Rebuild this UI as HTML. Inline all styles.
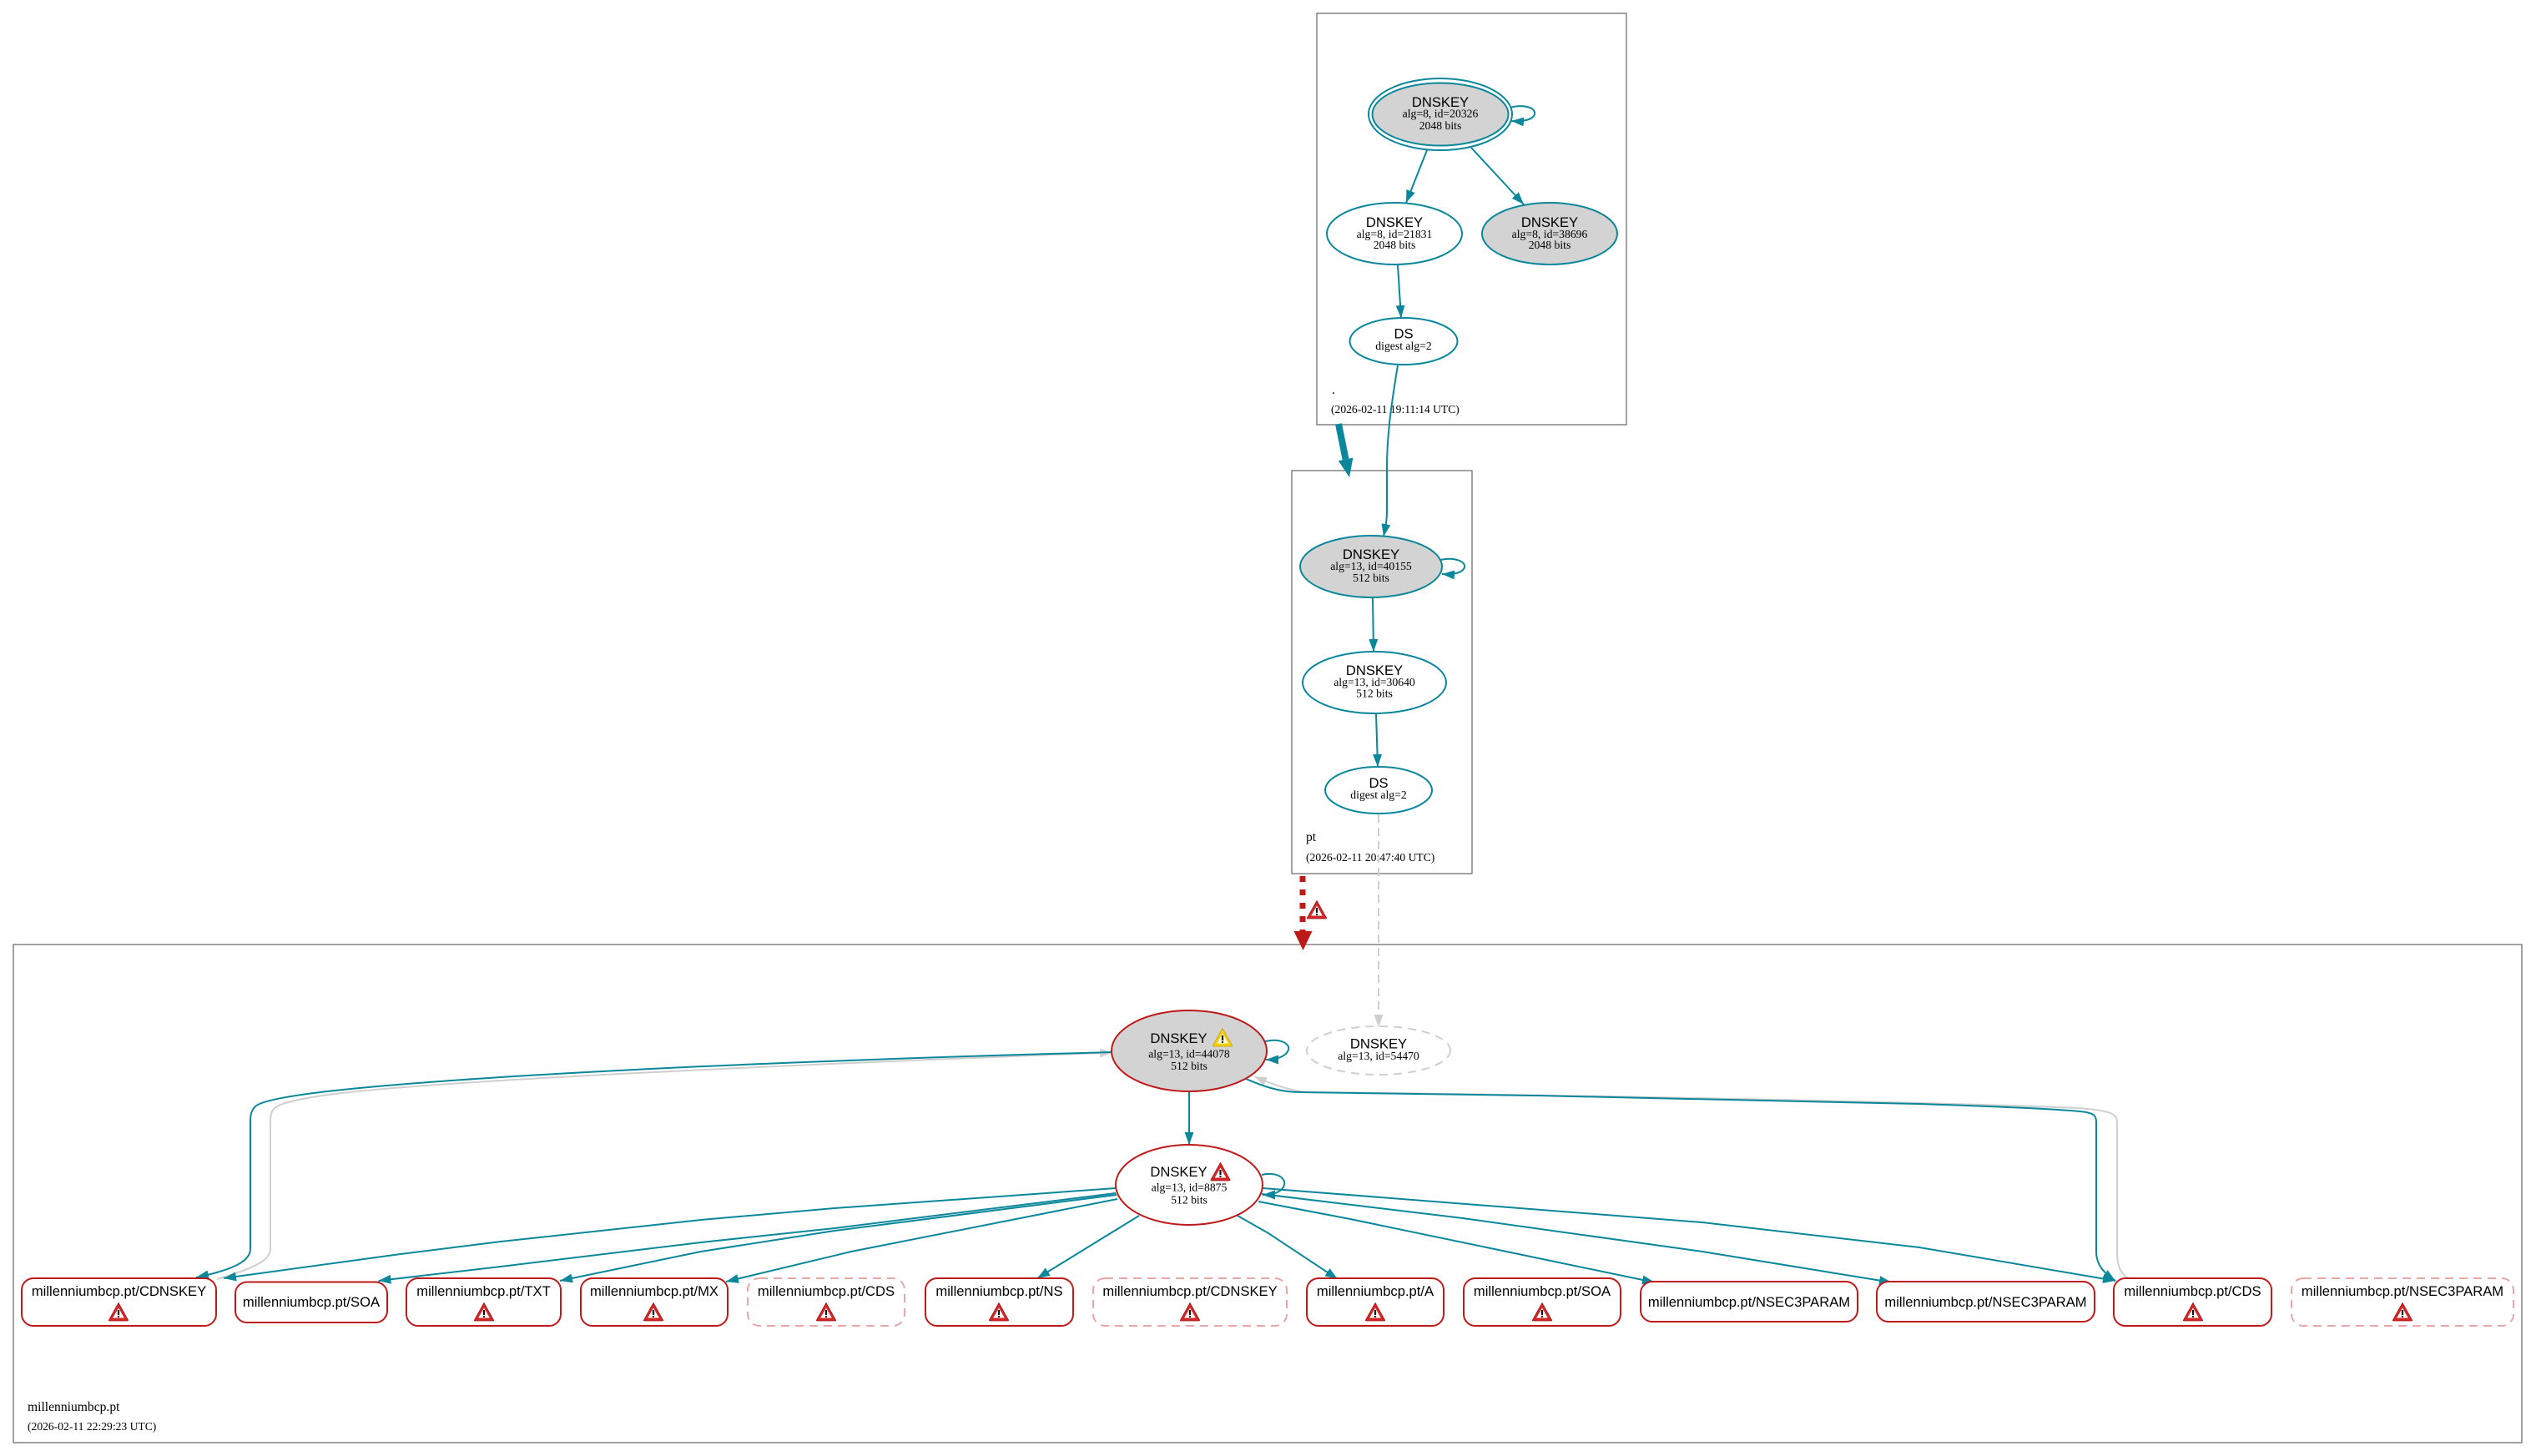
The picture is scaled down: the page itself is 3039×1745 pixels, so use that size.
<!DOCTYPE html>
<html><head><meta charset="utf-8"><style>
html,body{margin:0;padding:0;background:#fff;}
svg{display:block;}
.t{font-family:"Liberation Sans",Arial,sans-serif;font-size:16.6px;fill:#000;}
.s{font-family:"Liberation Serif","Times New Roman",serif;font-size:13.7px;fill:#000;}
.c{font-family:"Liberation Serif","Times New Roman",serif;font-size:15.6px;fill:#000;}
.d{font-family:"Liberation Serif","Times New Roman",serif;font-size:13.6px;fill:#000;}
.e{fill:none;stroke:#0a879a;stroke-width:2;}
.g{fill:none;stroke:#cfcfcf;stroke-width:2;}
.cl{fill:none;stroke:#707070;stroke-width:1.3;}
.rn{fill:#fff;stroke:#be1a1a;stroke-width:2;}
.dn{fill:#fff;stroke:#e8a6a6;stroke-width:2;stroke-dasharray:10,7;}
</style></head><body>
<svg width="3039" height="1745" viewBox="0 0 3039 1745" xmlns="http://www.w3.org/2000/svg">
<defs>
<marker id="at" markerUnits="userSpaceOnUse" markerWidth="16" markerHeight="12" refX="15" refY="5.5" orient="auto"><path d="M0,0 L15,5.5 L0,11 Z" fill="#0a879a"/></marker>
<marker id="ag" markerUnits="userSpaceOnUse" markerWidth="16" markerHeight="12" refX="15" refY="5.5" orient="auto"><path d="M0,0 L15,5.5 L0,11 Z" fill="#cfcfcf"/></marker>
</defs>
<rect width="3039" height="1745" fill="#fff"/>

<!-- clusters -->
<rect class="cl" x="1578" y="16" width="371" height="493"/>
<rect class="cl" x="1548" y="564" width="216" height="483"/>
<rect class="cl" x="16" y="1132" width="3006" height="597"/>

<text class="c" x="1596" y="472">.</text>
<text class="d" x="1595" y="495">(2026-02-11 19:11:14 UTC)</text>
<text class="c" x="1565" y="1008">pt</text>
<text class="d" x="1565" y="1032">(2026-02-11 20:47:40 UTC)</text>
<text class="c" x="33" y="1691">millenniumbcp.pt</text>
<text class="d" x="33" y="1714">(2026-02-11 22:29:23 UTC)</text>

<!-- root edges -->
<path class="e" d="M1710,180 L1685,243" marker-end="url(#at)"/>
<path class="e" d="M1763,177 L1826,245" marker-end="url(#at)"/>
<path class="e" d="M1675,318 L1679,381" marker-end="url(#at)"/>
<path class="e" d="M1675,438 C1668,480 1662,520 1662,560 L1662,612 C1662,625 1660,633 1658,643" marker-end="url(#at)"/>
<path class="e" d="M1809,129 C1828,124 1841,130 1839,137 C1837,143 1827,146 1811,145" marker-end="url(#at)"/>

<!-- thick arrow root -> pt -->
<path d="M1604,508 L1612.6,550.4" fill="none" stroke="#0a879a" stroke-width="8"/>
<polygon points="1621.4,548.6 1603.8,552.2 1617,572" fill="#0a879a"/>

<!-- root nodes -->
<ellipse cx="1726" cy="137" rx="86" ry="43" fill="#fff" stroke="#0a879a" stroke-width="2"/>
<ellipse cx="1726" cy="137" rx="81.5" ry="37.5" fill="#d3d3d3" stroke="#0a879a" stroke-width="2"/>
<text class="t" x="1726" y="128" text-anchor="middle">DNSKEY</text>
<text class="s" x="1726" y="140.5" text-anchor="middle">alg=8, id=20326</text>
<text class="s" x="1726" y="155" text-anchor="middle">2048 bits</text>

<ellipse cx="1671" cy="280" rx="81" ry="37" fill="#fff" stroke="#0a879a" stroke-width="2"/>
<text class="t" x="1671" y="272" text-anchor="middle">DNSKEY</text>
<text class="s" x="1671" y="285" text-anchor="middle">alg=8, id=21831</text>
<text class="s" x="1671" y="298" text-anchor="middle">2048 bits</text>

<ellipse cx="1857" cy="280" rx="81" ry="37" fill="#d3d3d3" stroke="#0a879a" stroke-width="2"/>
<text class="t" x="1857" y="272" text-anchor="middle">DNSKEY</text>
<text class="s" x="1857" y="285" text-anchor="middle">alg=8, id=38696</text>
<text class="s" x="1857" y="298" text-anchor="middle">2048 bits</text>

<ellipse cx="1682" cy="409" rx="64.5" ry="28" fill="#fff" stroke="#0a879a" stroke-width="2"/>
<text class="t" x="1682" y="405.5" text-anchor="middle">DS</text>
<text class="s" x="1682" y="419" text-anchor="middle">digest alg=2</text>

<!-- pt edges -->
<path class="e" d="M1645,717 L1646,781" marker-end="url(#at)"/>
<path class="e" d="M1649,855 L1651,919" marker-end="url(#at)"/>
<path class="e" d="M1726,671 C1745,667 1757,674 1755,680 C1753,686 1743,689 1728,688" marker-end="url(#at)"/>
<path class="g" d="M1652,976 L1652,1231" stroke-dasharray="10,6" marker-end="url(#ag)"/>

<!-- pt nodes -->
<ellipse cx="1643" cy="679" rx="85" ry="37" fill="#d3d3d3" stroke="#0a879a" stroke-width="2"/>
<text class="t" x="1643" y="670" text-anchor="middle">DNSKEY</text>
<text class="s" x="1643" y="683" text-anchor="middle">alg=13, id=40155</text>
<text class="s" x="1643" y="697" text-anchor="middle">512 bits</text>

<ellipse cx="1647" cy="818" rx="86" ry="37" fill="#fff" stroke="#0a879a" stroke-width="2"/>
<text class="t" x="1647" y="809" text-anchor="middle">DNSKEY</text>
<text class="s" x="1647" y="822" text-anchor="middle">alg=13, id=30640</text>
<text class="s" x="1647" y="835.5" text-anchor="middle">512 bits</text>

<ellipse cx="1652" cy="947" rx="64" ry="28" fill="#fff" stroke="#0a879a" stroke-width="2"/>
<text class="t" x="1652" y="944" text-anchor="middle">DS</text>
<text class="s" x="1652" y="957" text-anchor="middle">digest alg=2</text>

<!-- red dotted delegation arrow -->
<path d="M1561,1048 L1561,1116" fill="none" stroke="#be1a1a" stroke-width="7" stroke-dasharray="7,9" stroke-dashoffset="-2"/>
<polygon points="1550.5,1116 1572.5,1116 1561.5,1139" fill="#be1a1a"/>
<g transform="translate(1578,1090)"><path d="M0,-10.5 L11.5,10 Q12,11 10.5,11 L-10.5,11 Q-12,11 -11.5,10 Z" fill="#d02828" stroke="#a51414" stroke-width="0.8"/><path d="M0,-4.5 L6.8,7.5 L-6.8,7.5 Z" fill="#fff"/><rect x="-1.1" y="-2" width="2.2" height="6" fill="#111"/><rect x="-1.1" y="5" width="2.2" height="1.8" fill="#111"/></g>

<!-- bottom edges: grey first -->
<path class="g" d="M260,1533 C290,1524 324,1514 324,1497 L324,1345 C324,1336 325,1330 332,1326 C357,1313 440,1305 600,1295 C800,1283 1100,1270 1333,1261.5" marker-end="url(#ag)"/>
<path class="g" d="M2550,1532 C2540,1525 2537,1515 2537,1500 L2537,1345 C2537,1335 2530,1331 2490,1328 C2300,1320 1800,1311 1563,1309 C1540,1305 1520,1298 1503,1290" marker-end="url(#ag)"/>

<path class="e" d="M1333,1261 C1100,1267 800,1278 600,1291 C430,1302 320,1313 306,1326 C301,1331 300,1336 300,1345 L300,1497 C300,1512 278,1522 235,1531" marker-end="url(#at)"/>
<path class="e" d="M1493,1293 C1510,1300 1530,1309 1560,1309 C1800,1312 2100,1317 2300,1323 C2420,1327 2480,1330 2500,1333 C2510,1335 2512,1338 2512,1345 L2512,1500 C2512,1515 2520,1525 2535,1535" marker-end="url(#at)"/>

<path class="e" d="M1425,1308 L1425,1372" marker-end="url(#at)"/>
<path class="e" d="M1516,1248 C1535,1244 1546,1251 1544,1258 C1542,1265 1532,1270 1517,1270" marker-end="url(#at)"/>
<path class="e" d="M1512,1408 C1530,1404 1541,1412 1539,1420 C1537,1428 1527,1432 1513,1432" marker-end="url(#at)"/>

<path class="e" d="M1337,1424 L1000,1448 L840,1462 L600,1488 L480,1503 L268,1532" marker-end="url(#at)"/>
<path class="e" d="M1337,1430 L1000,1472 L840,1489 L600,1518 L453.5,1535" marker-end="url(#at)"/>
<path class="e" d="M1338,1432 L1000,1475 L840,1500 L671,1535" marker-end="url(#at)"/>
<path class="e" d="M1339,1437 L1020,1500 L870,1536" marker-end="url(#at)"/>
<path class="e" d="M1365,1457 L1243,1532" marker-end="url(#at)"/>
<path class="e" d="M1483,1457 L1520,1478 L1603,1533" marker-end="url(#at)"/>
<path class="e" d="M1508,1440 L1618,1461 L1983,1537" marker-end="url(#at)"/>
<path class="e" d="M1512,1431 L1753,1460 L2040,1500 L2267,1537" marker-end="url(#at)"/>
<path class="e" d="M1513,1424 L2040,1465 L2300,1495 L2535,1535" marker-end="url(#at)"/>

<!-- bottom ellipses -->
<ellipse cx="1425" cy="1259.5" rx="93" ry="48.5" fill="#d3d3d3" stroke="#be1a1a" stroke-width="2"/>
<text class="t" x="1412.5" y="1250" text-anchor="middle">DNSKEY</text>
<g transform="translate(1465,1243)"><path d="M0,-10.5 L11.5,10 Q12,11 10.5,11 L-10.5,11 Q-12,11 -11.5,10 Z" fill="#f3cf10" stroke="#c9a000" stroke-width="0.8"/><path d="M0,-4.5 L6.8,7.5 L-6.8,7.5 Z" fill="#fffbe0"/><rect x="-1.1" y="-2" width="2.2" height="6" fill="#111"/><rect x="-1.1" y="5" width="2.2" height="1.8" fill="#111"/></g>
<text class="s" x="1425" y="1267.5" text-anchor="middle">alg=13, id=44078</text>
<text class="s" x="1425" y="1282" text-anchor="middle">512 bits</text>

<ellipse cx="1652" cy="1259" rx="86" ry="29" fill="none" stroke="#cfcfcf" stroke-width="2" stroke-dasharray="10,7"/>
<text class="t" x="1652" y="1256.5" text-anchor="middle">DNSKEY</text>
<text class="s" x="1652" y="1270" text-anchor="middle">alg=13, id=54470</text>

<ellipse cx="1425" cy="1420" rx="88" ry="48" fill="#fff" stroke="#be1a1a" stroke-width="2"/>
<text class="t" x="1412.5" y="1410" text-anchor="middle">DNSKEY</text>
<g transform="translate(1462.5,1404)"><path d="M0,-10.5 L11.5,10 Q12,11 10.5,11 L-10.5,11 Q-12,11 -11.5,10 Z" fill="#d02828" stroke="#a51414" stroke-width="0.8"/><path d="M0,-4.5 L6.8,7.5 L-6.8,7.5 Z" fill="#fff"/><rect x="-1.1" y="-2" width="2.2" height="6" fill="#111"/><rect x="-1.1" y="5" width="2.2" height="1.8" fill="#111"/></g>
<text class="s" x="1425" y="1427.5" text-anchor="middle">alg=13, id=8875</text>
<text class="s" x="1425" y="1442.5" text-anchor="middle">512 bits</text>

<!-- bottom record nodes -->
<rect class="rn" x="26" y="1532" width="233" height="57" rx="14"/>
<text class="t" x="142.5" y="1553" text-anchor="middle">millenniumbcp.pt/CDNSKEY</text>
<rect class="rn" x="282" y="1536.5" width="182" height="48.5" rx="14"/>
<text class="t" x="373" y="1566" text-anchor="middle">millenniumbcp.pt/SOA</text>
<rect class="rn" x="487" y="1532" width="185" height="57" rx="14"/>
<text class="t" x="579.5" y="1553" text-anchor="middle">millenniumbcp.pt/TXT</text>
<rect class="rn" x="696" y="1532" width="176" height="57" rx="14"/>
<text class="t" x="784" y="1553" text-anchor="middle">millenniumbcp.pt/MX</text>
<rect class="dn" x="896" y="1532" width="188" height="57" rx="14"/>
<text class="t" x="990" y="1553" text-anchor="middle">millenniumbcp.pt/CDS</text>
<rect class="rn" x="1109" y="1532" width="177" height="57" rx="14"/>
<text class="t" x="1197.5" y="1553" text-anchor="middle">millenniumbcp.pt/NS</text>
<rect class="dn" x="1310" y="1532" width="232" height="57" rx="14"/>
<text class="t" x="1426" y="1553" text-anchor="middle">millenniumbcp.pt/CDNSKEY</text>
<rect class="rn" x="1566" y="1532" width="164" height="57" rx="14"/>
<text class="t" x="1648" y="1553" text-anchor="middle">millenniumbcp.pt/A</text>
<rect class="rn" x="1754" y="1532" width="188" height="57" rx="14"/>
<text class="t" x="1848" y="1553" text-anchor="middle">millenniumbcp.pt/SOA</text>
<rect class="rn" x="1966" y="1536" width="260" height="48" rx="14"/>
<text class="t" x="2096" y="1566" text-anchor="middle">millenniumbcp.pt/NSEC3PARAM</text>
<rect class="rn" x="2249" y="1536" width="261" height="48" rx="14"/>
<text class="t" x="2379.5" y="1566" text-anchor="middle">millenniumbcp.pt/NSEC3PARAM</text>
<rect class="rn" x="2533" y="1532" width="189" height="57" rx="14"/>
<text class="t" x="2627.5" y="1553" text-anchor="middle">millenniumbcp.pt/CDS</text>
<rect class="dn" x="2746" y="1532" width="266" height="57" rx="14"/>
<text class="t" x="2879" y="1553" text-anchor="middle">millenniumbcp.pt/NSEC3PARAM</text>

<!-- warning icons in record nodes -->
<g transform="translate(142,1572)"><path d="M0,-10.5 L11.5,10 Q12,11 10.5,11 L-10.5,11 Q-12,11 -11.5,10 Z" fill="#d02828" stroke="#a51414" stroke-width="0.8"/><path d="M0,-4.5 L6.8,7.5 L-6.8,7.5 Z" fill="#fff"/><rect x="-1.1" y="-2" width="2.2" height="6" fill="#111"/><rect x="-1.1" y="5" width="2.2" height="1.8" fill="#111"/></g>
<g transform="translate(580,1572)"><path d="M0,-10.5 L11.5,10 Q12,11 10.5,11 L-10.5,11 Q-12,11 -11.5,10 Z" fill="#d02828" stroke="#a51414" stroke-width="0.8"/><path d="M0,-4.5 L6.8,7.5 L-6.8,7.5 Z" fill="#fff"/><rect x="-1.1" y="-2" width="2.2" height="6" fill="#111"/><rect x="-1.1" y="5" width="2.2" height="1.8" fill="#111"/></g>
<g transform="translate(783,1572)"><path d="M0,-10.5 L11.5,10 Q12,11 10.5,11 L-10.5,11 Q-12,11 -11.5,10 Z" fill="#d02828" stroke="#a51414" stroke-width="0.8"/><path d="M0,-4.5 L6.8,7.5 L-6.8,7.5 Z" fill="#fff"/><rect x="-1.1" y="-2" width="2.2" height="6" fill="#111"/><rect x="-1.1" y="5" width="2.2" height="1.8" fill="#111"/></g>
<g transform="translate(990,1572)"><path d="M0,-10.5 L11.5,10 Q12,11 10.5,11 L-10.5,11 Q-12,11 -11.5,10 Z" fill="#d02828" stroke="#a51414" stroke-width="0.8"/><path d="M0,-4.5 L6.8,7.5 L-6.8,7.5 Z" fill="#fff"/><rect x="-1.1" y="-2" width="2.2" height="6" fill="#111"/><rect x="-1.1" y="5" width="2.2" height="1.8" fill="#111"/></g>
<g transform="translate(1197,1572)"><path d="M0,-10.5 L11.5,10 Q12,11 10.5,11 L-10.5,11 Q-12,11 -11.5,10 Z" fill="#d02828" stroke="#a51414" stroke-width="0.8"/><path d="M0,-4.5 L6.8,7.5 L-6.8,7.5 Z" fill="#fff"/><rect x="-1.1" y="-2" width="2.2" height="6" fill="#111"/><rect x="-1.1" y="5" width="2.2" height="1.8" fill="#111"/></g>
<g transform="translate(1426,1572)"><path d="M0,-10.5 L11.5,10 Q12,11 10.5,11 L-10.5,11 Q-12,11 -11.5,10 Z" fill="#d02828" stroke="#a51414" stroke-width="0.8"/><path d="M0,-4.5 L6.8,7.5 L-6.8,7.5 Z" fill="#fff"/><rect x="-1.1" y="-2" width="2.2" height="6" fill="#111"/><rect x="-1.1" y="5" width="2.2" height="1.8" fill="#111"/></g>
<g transform="translate(1648,1572)"><path d="M0,-10.5 L11.5,10 Q12,11 10.5,11 L-10.5,11 Q-12,11 -11.5,10 Z" fill="#d02828" stroke="#a51414" stroke-width="0.8"/><path d="M0,-4.5 L6.8,7.5 L-6.8,7.5 Z" fill="#fff"/><rect x="-1.1" y="-2" width="2.2" height="6" fill="#111"/><rect x="-1.1" y="5" width="2.2" height="1.8" fill="#111"/></g>
<g transform="translate(1848,1572)"><path d="M0,-10.5 L11.5,10 Q12,11 10.5,11 L-10.5,11 Q-12,11 -11.5,10 Z" fill="#d02828" stroke="#a51414" stroke-width="0.8"/><path d="M0,-4.5 L6.8,7.5 L-6.8,7.5 Z" fill="#fff"/><rect x="-1.1" y="-2" width="2.2" height="6" fill="#111"/><rect x="-1.1" y="5" width="2.2" height="1.8" fill="#111"/></g>
<g transform="translate(2628,1572)"><path d="M0,-10.5 L11.5,10 Q12,11 10.5,11 L-10.5,11 Q-12,11 -11.5,10 Z" fill="#d02828" stroke="#a51414" stroke-width="0.8"/><path d="M0,-4.5 L6.8,7.5 L-6.8,7.5 Z" fill="#fff"/><rect x="-1.1" y="-2" width="2.2" height="6" fill="#111"/><rect x="-1.1" y="5" width="2.2" height="1.8" fill="#111"/></g>
<g transform="translate(2879,1572)"><path d="M0,-10.5 L11.5,10 Q12,11 10.5,11 L-10.5,11 Q-12,11 -11.5,10 Z" fill="#d02828" stroke="#a51414" stroke-width="0.8"/><path d="M0,-4.5 L6.8,7.5 L-6.8,7.5 Z" fill="#fff"/><rect x="-1.1" y="-2" width="2.2" height="6" fill="#111"/><rect x="-1.1" y="5" width="2.2" height="1.8" fill="#111"/></g>
</svg>
</body></html>
